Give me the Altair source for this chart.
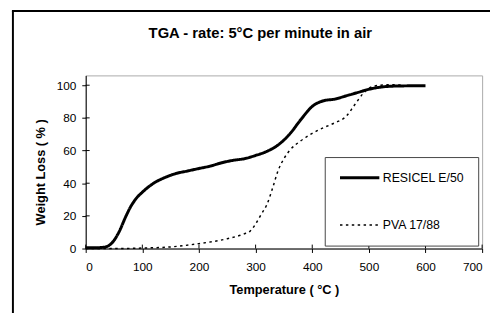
import altair as alt
import pandas as pd

# ---- data ----
series_names = ["RESICEL E/50", "PVA 17/88"]

res_T = [0, 20, 35, 45, 50, 60, 70, 80, 90, 100, 120, 140, 160, 180, 200, 220, 240, 260,
         280, 300, 320, 340, 360, 380, 400, 420, 440, 460, 480, 500, 520, 550, 600]
res_W = [0.5, 0.5, 1, 3, 5, 11, 19, 26, 31, 34.5, 40, 43.5, 46, 47.5, 49, 50.5, 52.5, 54,
         55, 57, 59.5, 63.5, 70, 79, 87, 90.5, 91.5, 93.5, 95.5, 97.5, 98.8, 99.5, 99.7]

pva_T = [0, 50, 100, 150, 200, 250, 280, 290, 300, 310, 320, 330, 340, 350, 360, 380, 400,
         420, 440, 460, 475, 490, 505, 520, 540, 560]
pva_W = [0, 0, 0.3, 1, 3, 6, 9, 10.5, 15, 21, 27, 37, 48, 55, 60, 66, 70.5,
         74, 77, 81, 88, 95, 99, 100, 100.3, 100]

x_ticks = [0, 100, 200, 300, 400, 500, 600, 700]
y_ticks = [0, 20, 40, 60, 80, 100]

df = pd.concat([
    pd.DataFrame({"T": res_T, "W": res_W, "series": series_names[0]}),
    pd.DataFrame({"T": pva_T, "W": pva_W, "series": series_names[1]}),
], ignore_index=True)

FONT = "Liberation Sans"
W, H = 403, 176

xscale = alt.Scale(domain=[0, 700], nice=False, zero=False)
yscale = alt.Scale(domain=[0, 106], nice=False)
xaxis = alt.Axis(values=x_ticks, title="Temperature ( °C )", labelPadding=9, titlePadding=12)
yaxis = alt.Axis(values=y_ticks, title="Weight Loss ( % )", labelPadding=6, titlePadding=9,
                 titleY=98)

legend_props = dict(
    orient="none", legendX=243, legendY=83, padding=14,
    strokeColor="#444444", fillColor="white", title=None,
    labelFont=FONT, labelFontSize=12.5, labelColor="black",
    symbolType="stroke", symbolSize=1600, clipHeight=14, rowPadding=34,
    labelOffset=2, symbolStrokeColor="black",
)

lines = alt.Chart(df).mark_line(interpolate="monotone", color="black").encode(
    x=alt.X("T:Q", scale=xscale, axis=xaxis),
    y=alt.Y("W:Q", scale=yscale, axis=yaxis),
    strokeDash=alt.StrokeDash("series:N",
                              scale=alt.Scale(domain=series_names, range=[[1, 0], [2.5, 3.5]]),
                              legend=alt.Legend(**legend_props)),
    strokeWidth=alt.StrokeWidth("series:N",
                                scale=alt.Scale(domain=series_names, range=[3, 1.5]),
                                legend=alt.Legend(**legend_props)),
    order=alt.Order("T:Q"),
)

xt = alt.Chart(pd.DataFrame({"T": x_ticks})).mark_rule(color="black").encode(
    x=alt.X("T:Q", scale=xscale, axis=xaxis),
    y=alt.value(H), y2=alt.value(H - 4),
)
yt = alt.Chart(pd.DataFrame({"W": y_ticks})).mark_rule(color="black").encode(
    y=alt.Y("W:Q", scale=yscale, axis=yaxis),
    x=alt.value(0), x2=alt.value(4),
)

frame_top = alt.Chart(pd.DataFrame({"a": [0]})).mark_rule(color="black", strokeWidth=2).encode(
    x=alt.value(-75), x2=alt.value(W + 30), y=alt.value(-65.5),
)
frame_left = alt.Chart(pd.DataFrame({"a": [0]})).mark_rule(color="black", strokeWidth=2).encode(
    x=alt.value(-74), y=alt.value(-65.5), y2=alt.value(H + 80),
)

chart = alt.layer(lines, xt, yt, frame_top, frame_left).properties(
    width=W, height=H,
    autosize=alt.AutoSizeParams(type="none"),
    padding={"left": 79, "top": 66, "right": 8, "bottom": 63},
    background="white",
    title=alt.Title("TGA - rate: 5°C per minute in air", font=FONT, fontSize=15,
                    fontWeight="bold", color="black", anchor="middle", dx=-24,
                    offset=0, dy=31),
).configure_view(
    stroke="#aaaaaa", strokeWidth=1,
).configure_axis(
    grid=False, domainColor="black", tickColor="black", labelColor="black",
    titleColor="black", labelFont=FONT, titleFont=FONT, labelFontSize=12,
    titleFontSize=13, titleFontWeight="bold", tickSize=4, labelFontWeight="normal",
)

chart.save("out.html", embed_options={"renderer": "svg", "actions": False})
